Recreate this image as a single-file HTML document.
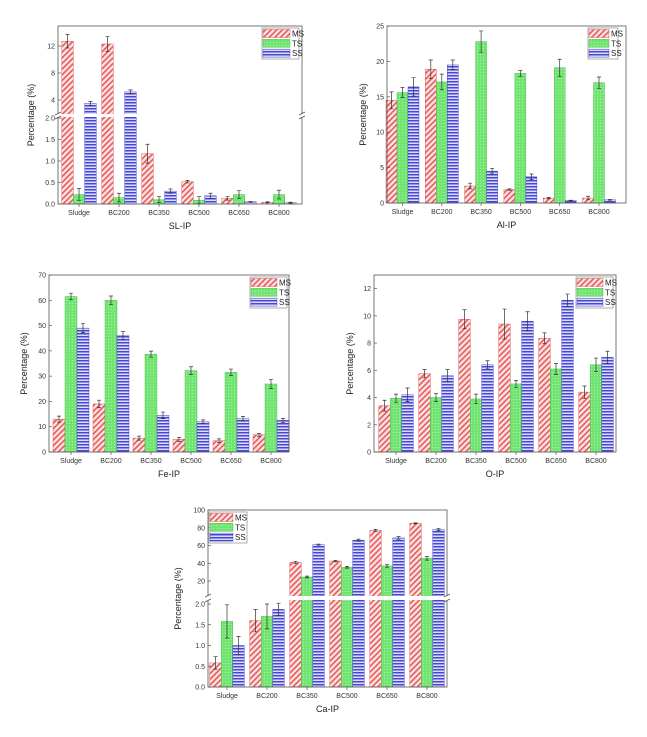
<!DOCTYPE html>
<html><head><meta charset="utf-8">
<style>
body{margin:0;background:#fff;width:647px;height:732px;overflow:hidden;font-family:"Liberation Sans",sans-serif}
svg text{font-family:"Liberation Sans",sans-serif}
</style></head>
<body>
<svg id="fig" width="647" height="732" viewBox="0 0 647 732" xmlns="http://www.w3.org/2000/svg">
<defs>
<pattern id="pMS" width="4" height="4" patternUnits="userSpaceOnUse" patternTransform="rotate(45)">
<rect width="4" height="4" fill="#fbe3e3"/><rect width="1.6" height="4" fill="#e8595a"/></pattern>
<pattern id="pTS" width="3" height="3" patternUnits="userSpaceOnUse">
<rect width="3" height="3" fill="#72e472"/><rect width="1" height="1" fill="#a9f2a9"/></pattern>
<pattern id="pSS" width="4" height="3" patternUnits="userSpaceOnUse">
<rect width="4" height="3" fill="#dcdcfa"/><rect width="4" height="1.5" fill="#4747d6"/></pattern>
</defs>
</svg>
<script>
const categories=["Sludge","BC200","BC350","BC500","BC650","BC800"];
const seriesNames=["MS","TS","SS"];
// SL-IP
const slMS=[12.7,12.3,1.17,0.52,0.13,0.04];
const slTS=[0.22,0.15,0.10,0.09,0.22,0.22];
const slSS=[3.5,5.2,0.30,0.19,0.05,0.03];
const slMSerr=[1.0,1.1,0.22,0.03,0.04,0.01];
const slTSerr=[0.14,0.10,0.07,0.08,0.09,0.10];
const slSSerr=[0.3,0.3,0.05,0.06,0.01,0.01];
const slTicksLow=[0,0.5,1.0,1.5,2.0];
const slTicksUp=[4,8,12];
// Al-IP
const alMS=[14.5,18.9,2.4,1.9,0.7,0.7];
const alTS=[15.6,17.1,22.8,18.3,19.1,17.0];
const alSS=[16.4,19.5,4.5,3.7,0.35,0.45];
const alMSerr=[1.2,1.3,0.4,0.1,0.1,0.25];
const alTSerr=[0.7,1.1,1.5,0.4,1.2,0.8];
const alSSerr=[1.3,0.7,0.4,0.4,0.05,0.05];
const alTicks=[0,5,10,15,20,25];
// Fe-IP
const feMS=[13,19,5.5,5,4.5,6.8];
const feTS=[61.5,60,38.7,32.2,31.5,26.9];
const feSS=[49,46,14.5,12,13.2,12.5];
const feMSerr=[1.2,1.5,0.8,0.8,0.7,0.6];
const feTSerr=[1.3,1.7,1.2,1.5,1.3,1.8];
const feSSerr=[1.8,1.6,1.3,0.7,0.9,0.8];
const feTicks=[0,10,20,30,40,50,60,70];
// O-IP
const oMS=[3.4,5.75,9.75,9.4,8.35,4.4];
const oTS=[3.95,4.0,3.9,5.0,6.1,6.4];
const oSS=[4.2,5.6,6.4,9.6,11.15,6.95];
const oMSerr=[0.4,0.3,0.7,1.1,0.4,0.45];
const oTSerr=[0.3,0.3,0.35,0.25,0.4,0.5];
const oSSerr=[0.5,0.45,0.3,0.7,0.45,0.45];
const oTicks=[0,2,4,6,8,10,12];
// Ca-IP
const caMS=[0.58,1.6,41,42.5,77,85];
const caTS=[1.58,1.7,24.5,35.5,37,45.5];
const caSS=[1.0,1.87,61,66,68.5,78];
const caMSerr=[0.15,0.27,1.2,0.8,1.0,0.5];
const caTSerr=[0.4,0.3,1.0,1.0,1.5,2.0];
const caSSerr=[0.22,0.15,0.6,1.2,1.5,1.2];
const caTicksLow=[0,0.5,1.0,1.5,2.0];
const caTicksUp=[20,40,60,80,100];

const NS="http://www.w3.org/2000/svg";
const svg=document.getElementById('fig');
function mk(tag,attrs,parent,text){const e=document.createElementNS(NS,tag);for(const k in attrs)e.setAttribute(k,attrs[k]);if(text!==undefined)e.textContent=text;(parent||svg).appendChild(e);return e;}
function fmt(v,dec){return dec?v.toFixed(1):String(v);}

function panel(cfg){
  const g=mk('g',{});
  
  
  // y mapping
  function seg(s,v){return s.y0+(v-s.v0)*(s.y1-s.y0)/(s.v1-s.v0);}
  function y(v){
    if(!cfg.upper||v<=cfg.lower.max)return seg(cfg.lower,v);
    return seg(cfg.upper,v);
  }
  const base=cfg.bottom;
  const bw=cfg.bw;
  const fills=['url(#pMS)','url(#pTS)','url(#pSS)'];
  const strokes=['#d04040','#40b040','#3030b0'];
  cfg.series.forEach((arr,si)=>{
    arr.forEach((v,ci)=>{
      const cx=cfg.x0+ci*cfg.step;
      const x=cx-1.5*bw+si*bw;
      const yt=y(v);
      const r=mk('rect',{x:x,y:yt,width:bw,height:Math.max(0,base-yt),fill:fills[si],stroke:strokes[si],'stroke-width':0.4},g);
      
      
      const e=cfg.errs[si][ci];
      const ya=y(v+e),yb=y(Math.max(0,v-e));
      const xm=x+bw/2;
      const eb=mk('path',{d:`M${xm},${ya}V${yb}M${xm-2},${ya}H${xm+2}M${xm-2},${yb}H${xm+2}`,stroke:'#333','stroke-width':0.7,fill:'none'},g);
      
      
    });
  });
  // break gap
  if(cfg.upper){
    const gp=mk('rect',{x:cfg.left+0.5,y:cfg.gap[0],width:cfg.right-cfg.left-1,height:cfg.gap[1]-cfg.gap[0],fill:'#fff'},g);
    
    
  }
  // frame
  const fr=mk('rect',{x:cfg.left,y:cfg.top,width:cfg.right-cfg.left,height:cfg.bottom-cfg.top,fill:'none',stroke:'#555','stroke-width':0.8},g);
  
  
  if(cfg.upper){
    const gm=(cfg.gap[0]+cfg.gap[1])/2;
    [cfg.left,cfg.right].forEach(xx=>{
      mk('rect',{x:xx-3,y:cfg.gap[0],width:6,height:cfg.gap[1]-cfg.gap[0],fill:'#fff'},g);
      const bm=mk('path',{d:`M${xx-3},${cfg.gap[0]+1}L${xx+3},${cfg.gap[0]-2}M${xx-3},${cfg.gap[1]+2}L${xx+3},${cfg.gap[1]-1}`,stroke:'#555','stroke-width':0.8},g);
      
      
    });
  }
  // ticks
  const tickGroups=cfg.upper?[[cfg.ticksLow,cfg.dec],[cfg.ticksUp,false]]:[[cfg.ticks,cfg.dec]];
  tickGroups.forEach(([ts,dec])=>{
    ts.forEach(t=>{
      const yy=y(t);
      mk('line',{x1:cfg.left,x2:cfg.left+3,y1:yy,y2:yy,stroke:'#555','stroke-width':0.7},g);
      const tl=mk('text',{x:cfg.left-3,y:yy+2.5,'font-size':7,'text-anchor':'end',fill:'#333'},g,fmt(t,dec));
      
      
    });
  });
  categories.forEach((c,ci)=>{
    const cx=cfg.x0+ci*cfg.step;
    mk('line',{x1:cx,x2:cx,y1:cfg.bottom,y2:cfg.bottom+3,stroke:'#555','stroke-width':0.7},g);
    const xl=mk('text',{x:cx,y:cfg.bottom+11,'font-size':7,'text-anchor':'middle',fill:'#333'},g,c);
    
    
  });
  const xt=mk('text',{x:(cfg.left+cfg.right)/2,y:cfg.bottom+25,'font-size':9,'text-anchor':'middle',fill:'#222'},g,cfg.title);
  
  
  const yt=mk('text',{x:cfg.ytx,y:(cfg.top+cfg.bottom)/2,'font-size':9,'text-anchor':'middle',fill:'#222',transform:`rotate(-90 ${cfg.ytx} ${(cfg.top+cfg.bottom)/2})`},g,'Percentage (%)');
  
  
  // legend
  const L=cfg.legend;
  const lg=mk('g',{},g);
  
  
  mk('rect',{x:L[0],y:L[1],width:L[2],height:31,fill:'#fff',stroke:'#777','stroke-width':0.6},lg);
  seriesNames.forEach((n,si)=>{
    const le=mk('g',{},lg);
    
    
    mk('rect',{x:L[0]+1,y:L[1]+1.5+si*9.8,width:L[3],height:8,fill:fills[si],stroke:strokes[si],'stroke-width':0.4},le);
    mk('text',{x:L[0]+L[3]+3,y:L[1]+8.5+si*9.8,'font-size':8,fill:'#222'},le,n);
  });
}

panel({name:'sl-ip',title:'SL-IP',left:58,right:302,top:26,bottom:204,x0:79,step:40,bw:11.5,
  lower:{v0:0,y0:204,v1:2,y1:118,max:2.05},upper:{v0:4,y0:100,v1:12,y1:46},gap:[114,117],
  ticksLow:slTicksLow,ticksUp:slTicksUp,dec:true,
  series:[slMS,slTS,slSS],errs:[slMSerr,slTSerr,slSSerr],legend:[262,28,37,27],ytx:34});
panel({name:'al-ip',title:'Al-IP',left:387,right:626,top:26,bottom:203,x0:402.5,step:39.3,bw:11,
  lower:{v0:0,y0:203,v1:25,y1:26,max:1e9},ticks:alTicks,dec:false,
  series:[alMS,alTS,alSS],errs:[alMSerr,alTSerr,alSSerr],legend:[588,28,30,20],ytx:366});
panel({name:'fe-ip',title:'Fe-IP',left:49,right:289,top:275,bottom:452,x0:71,step:40,bw:12,
  lower:{v0:0,y0:452,v1:70,y1:275,max:1e9},ticks:feTicks,dec:false,
  series:[feMS,feTS,feSS],errs:[feMSerr,feTSerr,feSSerr],legend:[250,277,37,26],ytx:27});
panel({name:'o-ip',title:'O-IP',left:374,right:616,top:275,bottom:452,x0:396,step:40,bw:11.5,
  lower:{v0:0,y0:452,v1:13,y1:275,max:1e9},ticks:oTicks,dec:false,
  series:[oMS,oTS,oSS],errs:[oMSerr,oTSerr,oSSerr],legend:[576,277,37,26],ytx:353});
panel({name:'ca-ip',title:'Ca-IP',left:208,right:447,top:510,bottom:687,x0:227,step:40,bw:11.5,
  lower:{v0:0,y0:687,v1:2,y1:604,max:2.1},upper:{v0:20,y0:581,v1:100,y1:510},gap:[596,600],
  ticksLow:caTicksLow,ticksUp:caTicksUp,dec:true,
  series:[caMS,caTS,caSS],errs:[caMSerr,caTSerr,caSSerr],legend:[209,512,38,23],ytx:181});
</script>
</body></html>
